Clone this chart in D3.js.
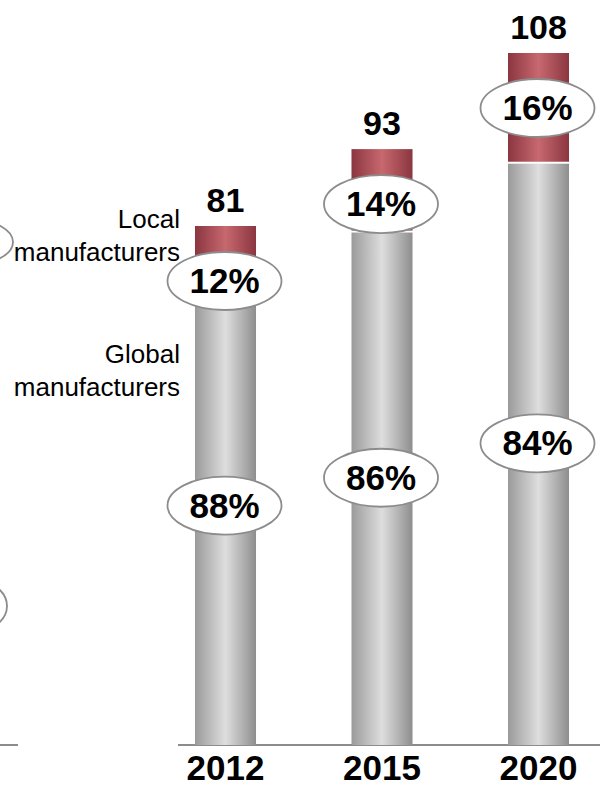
<!DOCTYPE html>
<html>
<head>
<meta charset="utf-8">
<script src="https://cdn.jsdelivr.net/npm/d3@7"></script>
<style>
  html, body { margin: 0; padding: 0; background: #fff; }
  svg { display: block; font-family: "Liberation Sans", Arial, sans-serif; }
</style>
</head>
<body>
<svg id="chart" width="600" height="786"></svg>
<script>
// Market size split: global vs local manufacturers

const years = ['2012', '2015', '2020'];
const totals = [81, 93, 108];
const localShare = [12, 14, 16];
const globalShare = [88, 86, 84];

const svg = d3.select('#chart');
const baseY = 745;

const x = d3.scaleBand()
    .domain(years)
    .range([147.25, 616.75])
    .paddingInner(0.61)
    .paddingOuter(0.305);

const y = d3.scaleLinear()
    .domain([0, 108])
    .range([baseY, 53]);

// gradients for the cylinder look
const defs = svg.append('defs');
function gradient(id, edgeL, mid, edgeR) {
    const g = defs.append('linearGradient')
        .attr('id', id)
        .attr('x1', '0%').attr('x2', '100%')
        .attr('y1', '0%').attr('y2', '0%');
    g.append('stop').attr('offset', '0%').attr('stop-color', edgeL);
    g.append('stop').attr('offset', '50%').attr('stop-color', mid);
    g.append('stop').attr('offset', '100%').attr('stop-color', edgeR);
}
gradient('greyGrad', '#9a9a9a', '#dedede', '#8e8e8e');
gradient('redGrad', '#8a3640', '#c8686f', '#8a3640');

const rows = years.map((yr, i) => {
    const local = totals[i] * localShare[i] / 100;
    return { year: yr, total: totals[i], local, global: totals[i] - local,
             localPct: localShare[i], globalPct: globalShare[i] };
});

// baseline
svg.append('line')
    .attr('x1', 178).attr('x2', 600)
    .attr('y1', baseY).attr('y2', baseY)
    .style('stroke', '#8c8c8c')
    .style('stroke-width', 2);

// leftovers of the neighbouring panel
svg.append('line')
    .attr('x1', 0).attr('x2', 18)
    .attr('y1', baseY).attr('y2', baseY)
    .style('stroke', '#8c8c8c')
    .style('stroke-width', 2);
[{ cx: -27, cy: 242, ry: 22 }, { cx: -33, cy: 606, ry: 28 }].forEach(e => {
    svg.append('ellipse')
        .attr('cx', e.cx).attr('cy', e.cy)
        .attr('rx', 40).attr('ry', e.ry)
        .style('fill', '#fff')
        .style('stroke', '#8c8c8c')
        .style('stroke-width', 1.8);
});

const bars = svg.append('g')
    .selectAll('g')
    .data(rows)
    .enter()
    .append('g');

// global (grey) part
bars.append('rect')
    .attr('x', d => x(d.year))
    .attr('width', x.bandwidth())
    .attr('y', d => y(d.global))
    .attr('height', d => baseY - y(d.global))
    .style('fill', 'url(#greyGrad)');

// local (red) part, with a thin white gap above the grey part
bars.append('rect')
    .attr('x', d => x(d.year))
    .attr('width', x.bandwidth())
    .attr('y', d => y(d.total))
    .attr('height', d => y(d.global) - y(d.total) - 2)
    .style('fill', 'url(#redGrad)');

// totals above bars
bars.append('text')
    .attr('x', d => x(d.year) + x.bandwidth() / 2)
    .attr('y', d => y(d.total) - 14)
    .attr('text-anchor', 'middle')
    .style('font-weight', 'bold')
    .style('font-size', '34px')
    .text(d => d.total);

// ellipse labels
function pctLabel(sel, cyFn, textFn) {
    const g = sel.append('g')
        .attr('transform', d => `translate(${x(d.year) + x.bandwidth() / 2 - 1}, ${cyFn(d)})`);
    g.append('ellipse')
        .attr('rx', 57).attr('ry', 29)
        .style('fill', '#fff')
        .style('stroke', '#8c8c8c')
        .style('stroke-width', 1.8);
    g.append('text')
        .attr('y', 12)
        .attr('text-anchor', 'middle')
        .style('font-weight', 'bold')
        .style('font-size', '35px')
        .text(textFn);
}
pctLabel(bars, d => y(d.total) + 55, d => d.localPct + '%');
pctLabel(bars, d => (y(d.global) + baseY) / 2 - 11, d => d.globalPct + '%');

// year labels
svg.append('g')
    .selectAll('text')
    .data(years)
    .enter()
    .append('text')
    .attr('x', d => x(d) + x.bandwidth() / 2)
    .attr('y', 780)
    .attr('text-anchor', 'middle')
    .style('font-weight', 'bold')
    .style('font-size', '35px')
    .text(d => d);

// series legend text on the left
const legendLines = [
    { lines: ['Local', 'manufacturers'], y: 228 },
    { lines: ['Global', 'manufacturers'], y: 363 }
];
legendLines.forEach(item => {
    item.lines.forEach((t, i) => {
        svg.append('text')
            .attr('x', 180)
            .attr('y', item.y + i * 33)
            .attr('text-anchor', 'end')
            .style('font-size', '26px')
            .style('fill', '#000')
            .text(t);
    });
});
</script>
</body>
</html>
